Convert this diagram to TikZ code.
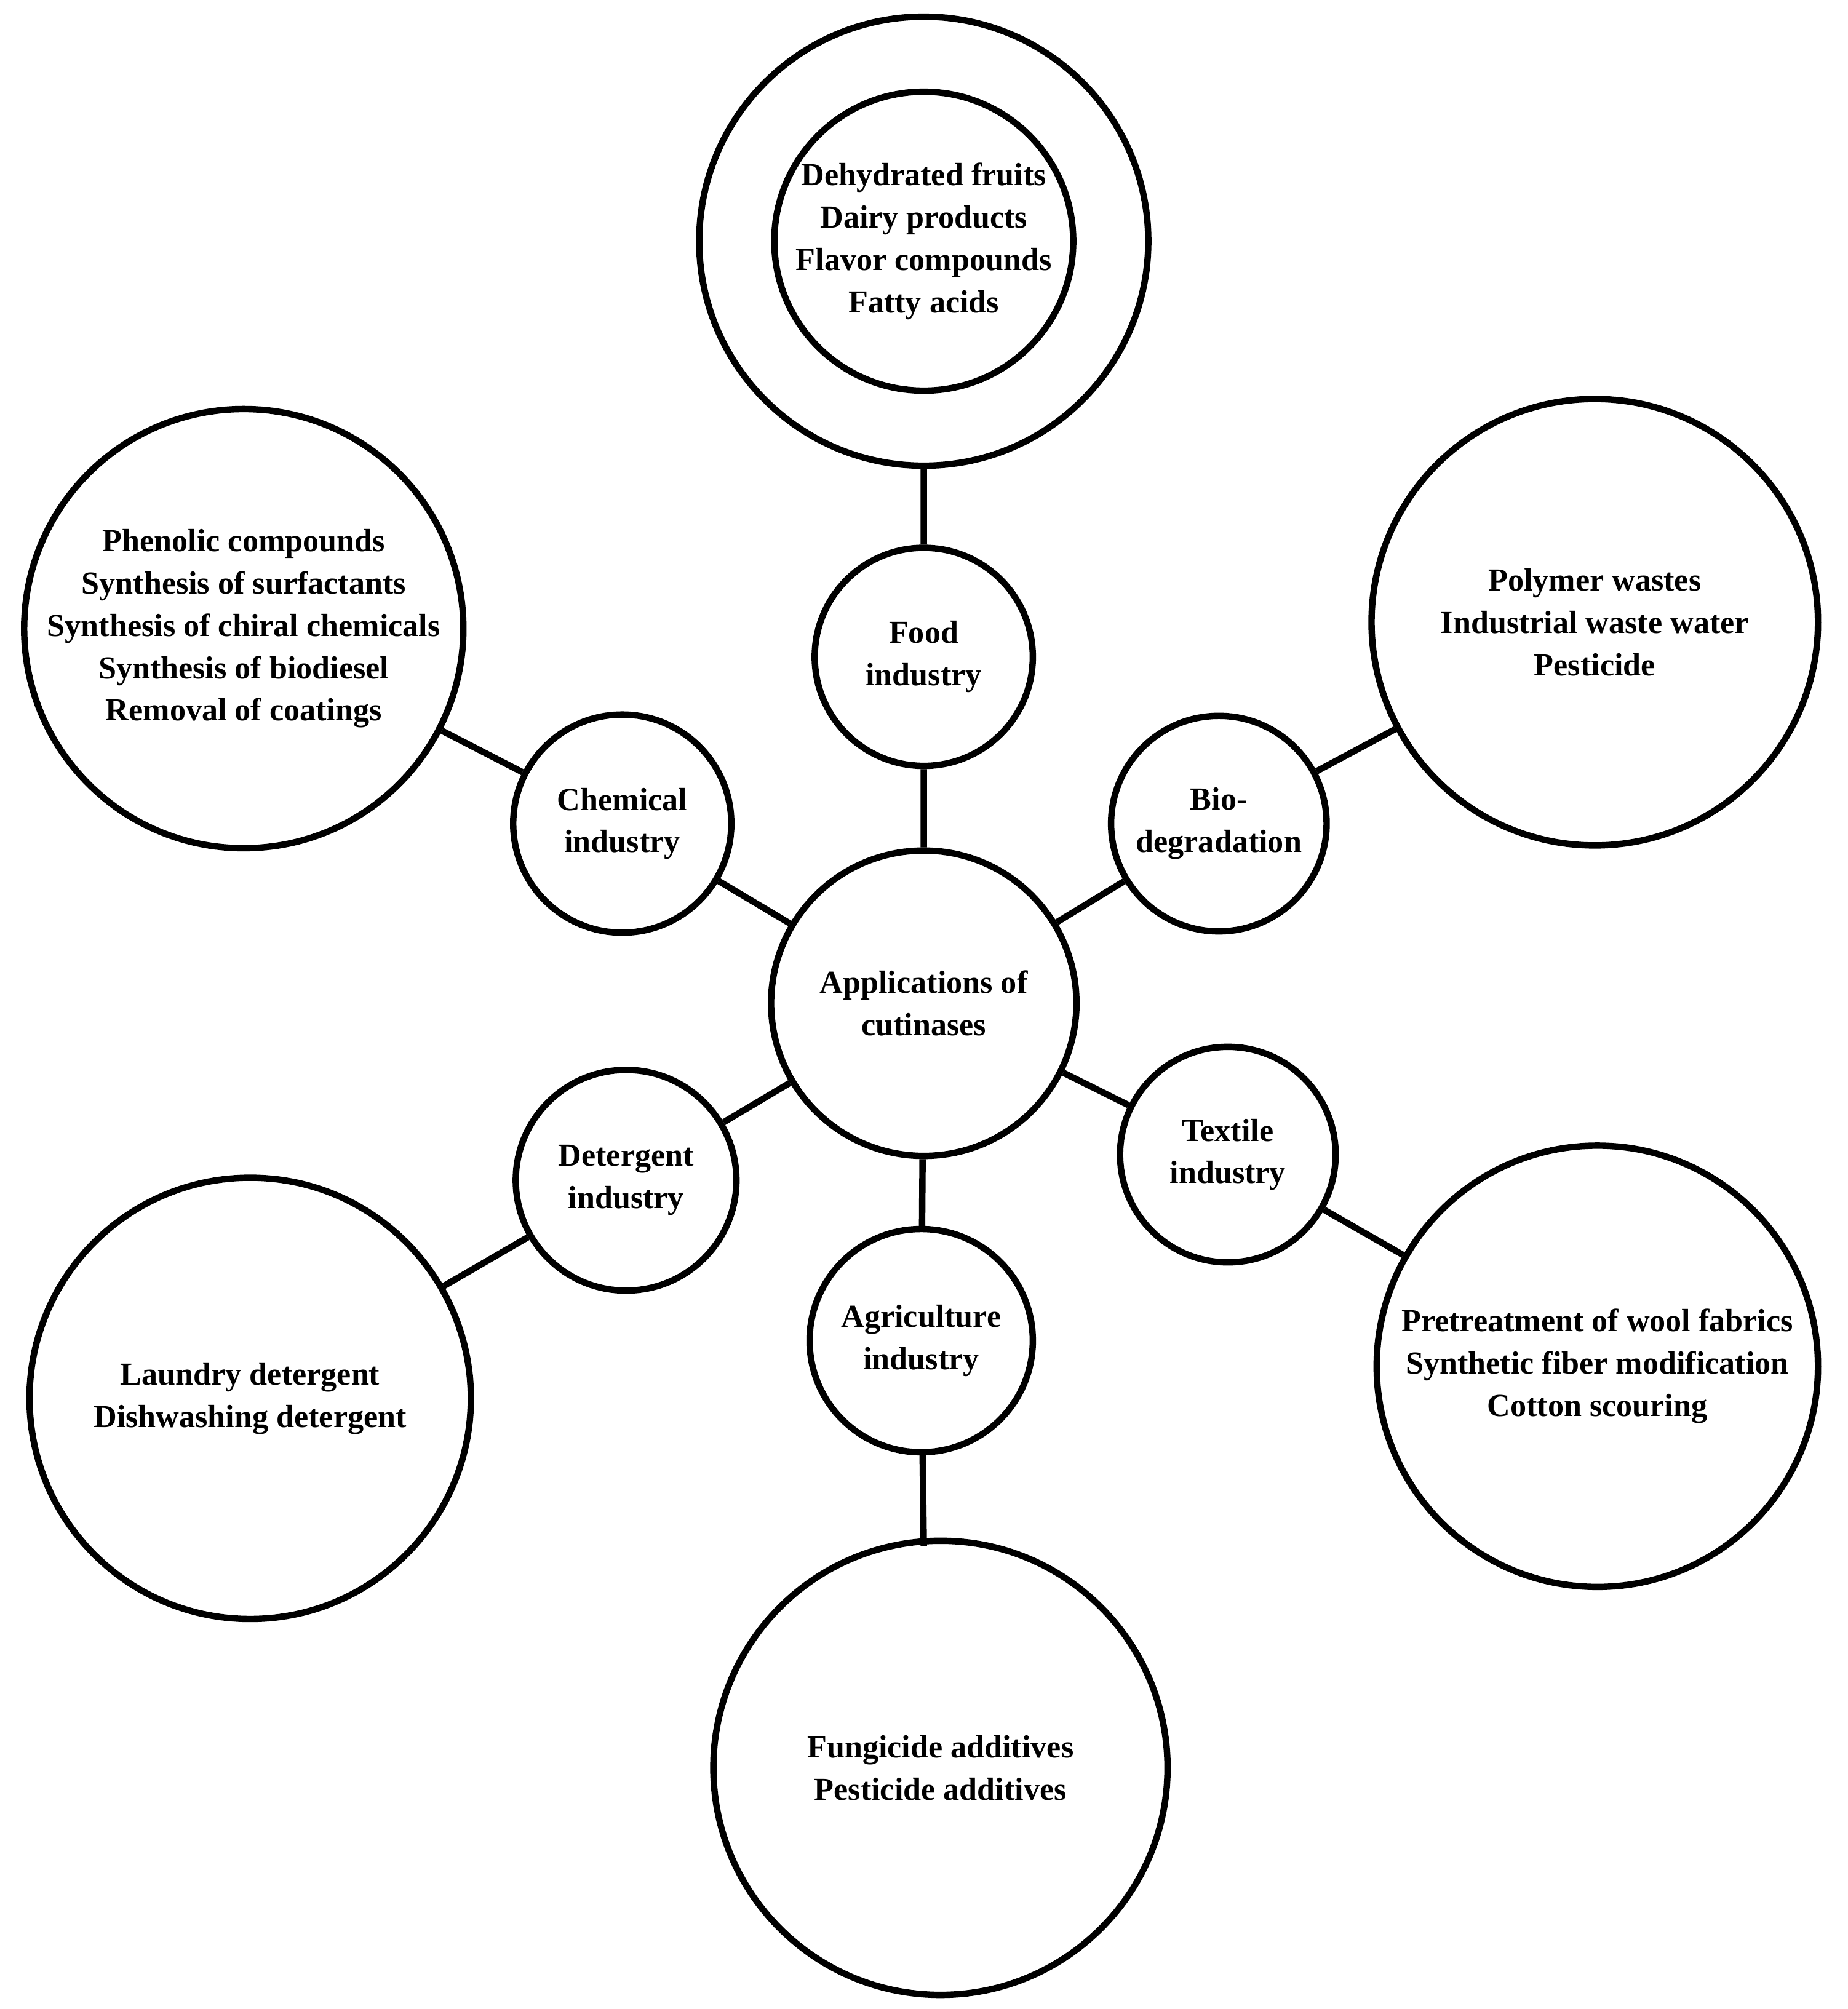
\documentclass[tikz,border=0pt]{standalone}
\usepackage{fontspec}
\setmainfont{Liberation Serif}
\begin{document}
\begin{tikzpicture}[x=1pt,y=-1pt,
  c/.style={circle,draw,line width=5pt,minimum size=#1*2pt,inner sep=0pt,align=center,font=\fontsize{25}{33}\selectfont\bfseries},
  l/.style={line width=5pt}]
\useasboundingbox (0,0) rectangle (1440,1566);
\node[c=119] (m) at (720,782) {Applications of\\cutinases};
\node[c=85] (f) at (720,512) {Food\\industry};
\node[c=87] (fb) at (720,188) {Dehydrated fruits\\Dairy products\\Flavor compounds\\Fatty acids};
\node[c=85] (ch) at (485,642) {Chemical\\industry};
\node[c=170] (chb) at (190,490) {Phenolic compounds\\Synthesis of surfactants\\Synthesis of chiral chemicals\\Synthesis of biodiesel\\Removal of coatings};
\node[c=84] (b) at (950,642) {Bio-\\degradation};
\node[c=174] (bb) at (1243,485) {Polymer wastes\\Industrial waste water\\Pesticide};
\node[c=84] (t) at (957,900) {Textile\\industry};
\node[c=172] (tb) at (1245,1065) {Pretreatment of wool fabrics\\Synthetic fiber modification\\Cotton scouring};
\node[c=86] (d) at (488,920) {Detergent\\industry};
\node[c=172] (db) at (195,1090) {Laundry detergent\\Dishwashing detergent};
\node[c=87] (a) at (718,1045) {Agriculture\\industry};
\node[c=177] (ab) at (733,1378) {Fungicide additives\\Pesticide additives};
\node[c=175] at (720,188) {};
\draw[l] (m)--(f) (f)--(720,362) (m)--(ch) (ch)--(chb) (m)--(b) (b)--(bb)
 (m)--(t) (t)--(tb) (m)--(d) (d)--(db) (m)--(a) (a)--(720,1205);
\end{tikzpicture}
\end{document}
